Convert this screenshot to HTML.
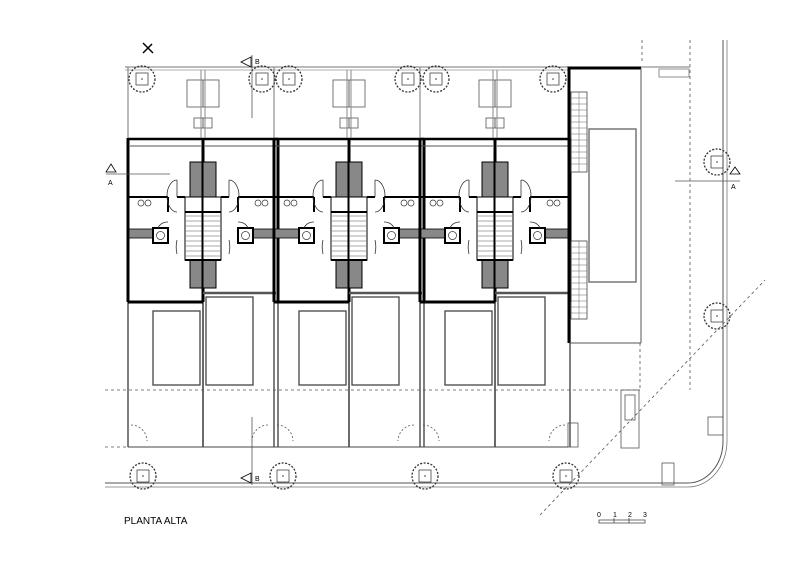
<!DOCTYPE html>
<html><head><meta charset="utf-8"><style>
html,body{margin:0;padding:0;background:#fff;}
svg{display:block;font-family:"Liberation Sans",sans-serif;}
</style></head><body>
<svg width="800" height="565" viewBox="0 0 800 565" xmlns="http://www.w3.org/2000/svg">
<defs>
<g id="tree">
<circle r="13" fill="none" stroke="#333" stroke-width="1.3" stroke-dasharray="2 1.5"/>
<rect x="-6" y="-6" width="12" height="12" fill="none" stroke="#444" stroke-width="0.8"/>
<circle r="0.8" fill="#333"/>
</g>
<g id="half">
<!-- local: wall at x=0, left edge x=-75 -->
<rect x="-16" y="80" width="16" height="27" fill="none" stroke="#555" stroke-width="0.8"/>
<rect x="-9" y="118" width="9" height="10" fill="none" stroke="#555" stroke-width="0.8"/>
<line x1="-75" y1="139" x2="0" y2="139" stroke="#000" stroke-width="2.5"/>
<line x1="-73" y1="146" x2="-2" y2="146" stroke="#555" stroke-width="1"/>
<line x1="-75" y1="138" x2="-75" y2="302" stroke="#000" stroke-width="3"/>
<line x1="0" y1="138" x2="0" y2="302" stroke="#000" stroke-width="3"/>
<rect x="-13" y="162" width="13" height="35" fill="#888" stroke="#000" stroke-width="1"/>
<rect x="-13" y="259" width="13" height="29" fill="#888" stroke="#000" stroke-width="1"/>
<rect x="-18" y="197" width="18" height="63" fill="#fff" stroke="#000" stroke-width="1"/>
<path d="M-18 212 H0 M-18 260 H0" stroke="#000" stroke-width="2"/>
<path d="M-17 216 H0 M-17 221 H0 M-17 226 H0 M-17 231 H0 M-17 236 H0 M-17 241 H0 M-17 246 H0 M-17 251 H0 M-17 256 H0" stroke="#555" stroke-width="0.6"/>
<line x1="-75" y1="197" x2="-35" y2="197" stroke="#000" stroke-width="2"/>
<line x1="-35" y1="197" x2="-35" y2="212" stroke="#000" stroke-width="2"/>
<line x1="-26" y1="197" x2="-18" y2="197" stroke="#000" stroke-width="2"/>
<rect x="-74" y="229" width="24" height="9" fill="#888" stroke="#000" stroke-width="0.8"/>
<rect x="-50" y="228" width="15" height="15" fill="#fff" stroke="#000" stroke-width="2"/>
<circle cx="-42.5" cy="235.5" r="4" fill="none" stroke="#333" stroke-width="0.7"/>
<circle cx="-62" cy="203" r="3" fill="none" stroke="#333" stroke-width="0.7"/>
<circle cx="-55" cy="203" r="3" fill="none" stroke="#333" stroke-width="0.7"/>
<path d="M-26 180 A10 16 0 0 0 -26 212 M-26 180 V197" fill="none" stroke="#333" stroke-width="0.8"/>
<path d="M-26 240 A10 18 0 0 0 -26 254" fill="none" stroke="#333" stroke-width="0.8"/>
<path d="M-35 222 A10 10 0 0 0 -45 228" fill="none" stroke="#333" stroke-width="0.8"/>
<line x1="-75" y1="302" x2="-75" y2="447" stroke="#555" stroke-width="1.5"/>
<line x1="0" y1="302" x2="0" y2="447" stroke="#555" stroke-width="1.5"/>
</g>
<g id="pair">
<use href="#half"/>
<g transform="scale(-1,1)"><use href="#half"/></g>
<line x1="-75" y1="68" x2="-75" y2="138" stroke="#888" stroke-width="1"/>
<line x1="-2" y1="70" x2="-2" y2="138" stroke="#888" stroke-width="1"/>
<line x1="2" y1="70" x2="2" y2="138" stroke="#888" stroke-width="1"/>
<line x1="-75" y1="302" x2="0" y2="302" stroke="#000" stroke-width="3"/>
<line x1="0" y1="293" x2="73" y2="293" stroke="#555" stroke-width="2.5"/>
<rect x="-50" y="311" width="47" height="74" fill="none" stroke="#444" stroke-width="1.3"/>
<rect x="3" y="297" width="47" height="88" fill="none" stroke="#444" stroke-width="1.3"/>
<line x1="-75" y1="447" x2="73" y2="447" stroke="#444" stroke-width="1"/>
</g>
</defs>
<rect width="800" height="565" fill="#fff"/>
<!-- top boundary -->
<line x1="125" y1="67" x2="690" y2="67" stroke="#777" stroke-width="1"/>
<line x1="125" y1="70" x2="570" y2="70" stroke="#999" stroke-width="0.8"/>
<use href="#pair" transform="translate(203,0)"/>
<use href="#pair" transform="translate(349,0)"/>
<use href="#pair" transform="translate(495,0)"/>
<line x1="128" y1="67" x2="128" y2="138" stroke="#777" stroke-width="1"/>
<line x1="274" y1="67" x2="274" y2="138" stroke="#777" stroke-width="1"/>
<line x1="420" y1="67" x2="420" y2="138" stroke="#777" stroke-width="1"/>
<!-- right block -->
<path d="M569 343 V68 H641" fill="none" stroke="#000" stroke-width="3"/>
<line x1="641" y1="68" x2="641" y2="343" stroke="#555" stroke-width="1"/>
<line x1="569" y1="343" x2="641" y2="343" stroke="#555" stroke-width="1"/>
<rect x="571" y="92" width="16" height="80" fill="none" stroke="#444" stroke-width="0.8"/>
<rect x="571" y="241" width="16" height="78" fill="none" stroke="#444" stroke-width="0.8"/>
<g stroke="#666" stroke-width="0.5">
<path d="M571 98H587M571 104H587M571 110H587M571 116H587M571 122H587M571 128H587M571 134H587M571 140H587M571 146H587M571 152H587M571 158H587M571 164H587M579 92V172"/>
<path d="M571 247H587M571 253H587M571 259H587M571 265H587M571 271H587M571 277H587M571 283H587M571 289H587M571 295H587M571 301H587M571 307H587M571 313H587M579 241V319"/>
</g>
<rect x="589" y="129" width="47" height="153" fill="none" stroke="#777" stroke-width="1.5"/>
<rect x="659" y="69" width="30" height="8" fill="none" stroke="#777" stroke-width="0.8"/>
<!-- dashed lines -->
<g stroke="#555" stroke-width="0.8" stroke-dasharray="3 3" fill="none">
<line x1="642" y1="40" x2="642" y2="62"/>
<line x1="690" y1="40" x2="690" y2="390"/>
<line x1="105" y1="390" x2="640" y2="390"/>
<line x1="105" y1="447" x2="128" y2="447"/>
<line x1="640" y1="343" x2="640" y2="390"/>
<line x1="540" y1="515" x2="765" y2="280"/>
</g>
<!-- street -->
<path d="M105 483 H688 A35 42 0 0 0 723 441 V40" fill="none" stroke="#555" stroke-width="1"/>
<path d="M105 487 H688 A39 46 0 0 0 727 441 V40" fill="none" stroke="#777" stroke-width="0.8"/>
<rect x="621" y="390" width="18" height="58" fill="none" stroke="#555" stroke-width="0.8"/>
<rect x="625" y="395" width="10" height="25" fill="none" stroke="#555" stroke-width="0.8"/>
<rect x="708" y="417" width="15" height="18" fill="none" stroke="#555" stroke-width="0.8"/>
<rect x="662" y="463" width="12" height="22" fill="none" stroke="#555" stroke-width="0.8"/>
<rect x="568" y="423" width="10" height="24" fill="none" stroke="#555" stroke-width="0.8"/>
<!-- door arcs -->
<g fill="none" stroke="#555" stroke-width="0.8" stroke-dasharray="2 2">
<path d="M131 425 A16 16 0 0 1 147 441"/>
<path d="M268 425 A16 16 0 0 0 252 441"/>
<path d="M277 425 A16 16 0 0 1 293 441"/>
<path d="M414 425 A16 16 0 0 0 398 441"/>
<path d="M423 425 A16 16 0 0 1 439 441"/>
<path d="M565 425 A16 16 0 0 0 549 441"/>
</g>
<!-- trees -->
<use href="#tree" transform="translate(142,79)"/>
<use href="#tree" transform="translate(262,79)"/>
<use href="#tree" transform="translate(289,79)"/>
<use href="#tree" transform="translate(408,79)"/>
<use href="#tree" transform="translate(436,79)"/>
<use href="#tree" transform="translate(553,79)"/>
<use href="#tree" transform="translate(143,476)"/>
<use href="#tree" transform="translate(283,476)"/>
<use href="#tree" transform="translate(425,476)"/>
<use href="#tree" transform="translate(566,476)"/>
<use href="#tree" transform="translate(717,162)"/>
<use href="#tree" transform="translate(717,316)"/>
<!-- section marks -->
<path d="M143 43 L153 53 M143 53 L152 44" stroke="#000" stroke-width="1.5"/>
<polygon points="241,62 251,57 251,67" fill="none" stroke="#000" stroke-width="0.8"/>
<line x1="252" y1="55" x2="252" y2="118" stroke="#555" stroke-width="0.8"/>
<text x="255" y="64" font-size="7">B</text>
<polygon points="241,478 251,473 251,483" fill="none" stroke="#000" stroke-width="0.8"/>
<line x1="252" y1="417" x2="252" y2="485" stroke="#555" stroke-width="0.8"/>
<text x="255" y="481" font-size="7">B</text>
<polygon points="106,172 111,164 116,172" fill="none" stroke="#000" stroke-width="0.8"/>
<line x1="106" y1="174" x2="170" y2="174" stroke="#555" stroke-width="0.8"/>
<text x="108" y="185" font-size="7">A</text>
<polygon points="730,174 735,167 740,174" fill="none" stroke="#000" stroke-width="0.8"/>
<line x1="675" y1="181" x2="740" y2="181" stroke="#555" stroke-width="0.8"/>
<text x="731" y="189" font-size="7">A</text>
<text x="124" y="524" font-size="10">PLANTA ALTA</text>
<!-- scale -->
<g font-size="7">
<text x="597" y="517">0</text><text x="613" y="517">1</text><text x="628" y="517">2</text><text x="643" y="517">3</text>
</g>
<rect x="599" y="520" width="46" height="3" fill="none" stroke="#333" stroke-width="0.7"/>
<path d="M614 518V523M629 518V523" stroke="#333" stroke-width="0.7"/>
</svg>
</body></html>
